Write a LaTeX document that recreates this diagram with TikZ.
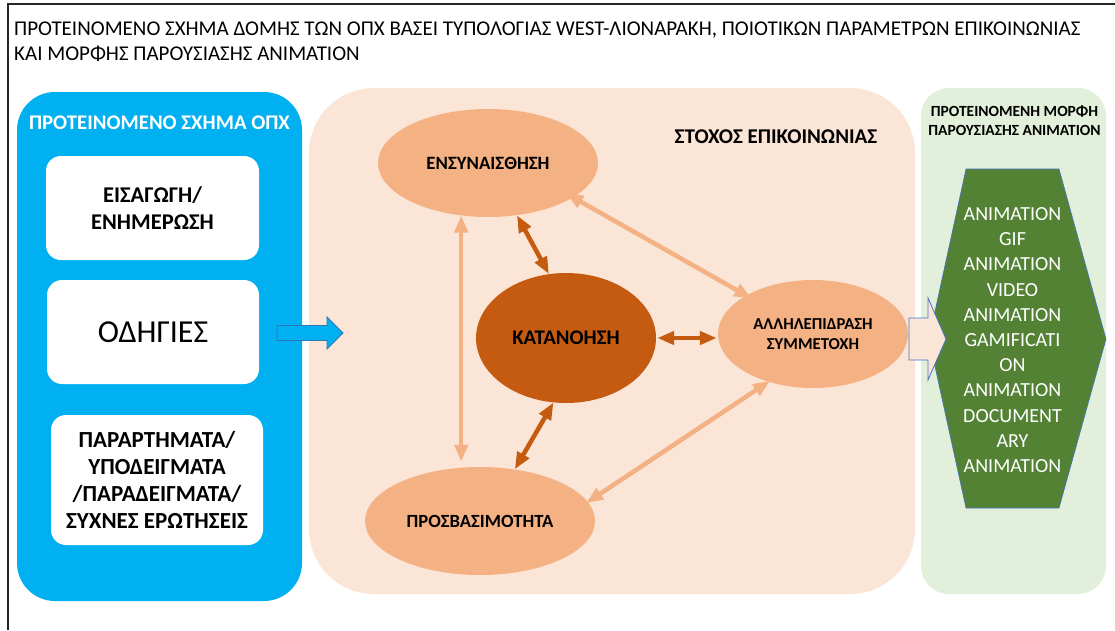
\documentclass[tikz,border=0pt]{standalone}
\usepackage{fontspec}
\setmainfont{Carlito}
\usetikzlibrary{shapes.geometric,arrows.meta}
\definecolor{bluep}{HTML}{00B0F0}
\definecolor{bluedge}{HTML}{2E75B6}
\definecolor{orpanel}{HTML}{FBE5D6}
\definecolor{lightor}{HTML}{F4B183}
\definecolor{darkor}{HTML}{C55A11}
\definecolor{grpanel}{HTML}{E2EFDA}
\definecolor{hexgreen}{HTML}{548235}
\definecolor{hexedge}{HTML}{4472C4}
\begin{document}
\begin{tikzpicture}[x=1pt,y=-1pt,
  panel/.style={inner sep=0pt, draw=none},
  wbox/.style={fill=white, rounded corners=15pt, inner sep=0pt, align=center},
  ell/.style={ellipse, inner sep=0pt, fill=lightor, align=center},
  lt/.style={draw=lightor, line width=4.5pt, {Triangle[length=17pt,width=13pt]}-{Triangle[length=17pt,width=13pt]}},
  dk/.style={draw=darkor, line width=4.5pt, {Triangle[length=17pt,width=13pt]}-{Triangle[length=17pt,width=13pt]}},
  blockarrow/.style={line width=0.8pt, line join=miter}
]
\useasboundingbox (0,0) rectangle (1115,630);
\fill[white] (0,0) rectangle (1115,630);
% frame
\draw[line width=1.5pt, black!85] (8,630) -- (8,4) -- (1115,4);
% title
\node[anchor=west, align=left, inner sep=0pt, font=\fontsize{21}{25}\selectfont] (title) at (14,42)
  {ΠΡΟΤΕΙΝΟΜΕΝΟ ΣΧΗΜΑ ΔΟΜΗΣ ΤΩΝ ΟΠΧ ΒΑΣΕΙ ΤΥΠΟΛΟΓΙΑΣ WEST-ΛΙΟΝΑΡΑΚΗ, ΠΟΙΟΤΙΚΩΝ ΠΑΡΑΜΕΤΡΩΝ ΕΠΙΚΟΙΝΩΝΙΑΣ\\ΚΑΙ ΜΟΡΦΗΣ ΠΑΡΟΥΣΙΑΣΗΣ ANIMATION};
% panels
\node[panel, fill=bluep, rounded corners=38pt, minimum width=285pt, minimum height=509pt] (blue) at (159.5,346.5) {};
\node[panel, fill=orpanel, rounded corners=65pt, minimum width=606pt, minimum height=506pt] (orange) at (612,341) {};
\node[panel, fill=grpanel, rounded corners=28pt, minimum width=185pt, minimum height=506pt] (green) at (1013.5,341) {};
% left panel content
\node[text=white, font=\fontsize{20.8}{24}\selectfont\bfseries] (bluetitle) at (159.5,123) {ΠΡΟΤΕΙΝΟΜΕΝΟ ΣΧΗΜΑ ΟΠΧ};
\node[wbox, minimum width=213pt, minimum height=104pt, font=\fontsize{22.5}{27}\selectfont\bfseries] (box1) at (152.5,208) {ΕΙΣΑΓΩΓΗ/\\ΕΝΗΜΕΡΩΣΗ};
\node[wbox, minimum width=212pt, minimum height=104pt, font=\fontsize{32}{36}\selectfont] (box2) at (153,332) {ΟΔΗΓΙΕΣ};
\node[wbox, minimum width=212pt, minimum height=130pt, font=\fontsize{23}{27}\selectfont\bfseries] (box3) at (157,480) {ΠΑΡΑΡΤΗΜΑΤΑ/\\ΥΠΟΔΕΙΓΜΑΤΑ\\/ΠΑΡΑΔΕΙΓΜΑΤΑ/\\ΣΥΧΝΕΣ ΕΡΩΤΗΣΕΙΣ};
% blue block arrow
\draw[blockarrow, fill=bluep, draw=bluedge] (277,325.5) -- (327,325.5) -- (327,317) -- (343,333) -- (327,349) -- (327,340.5) -- (277,340.5) -- cycle;
% centre panel
\node[font=\fontsize{21}{24}\selectfont\bfseries] (goal) at (776,137) {ΣΤΟΧΟΣ ΕΠΙΚΟΙΝΩΝΙΑΣ};
\node[ell, minimum width=220pt, minimum height=108pt, font=\fontsize{18.8}{22}\selectfont\bfseries] (ens) at (488,163) {ΕΝΣΥΝΑΙΣΘΗΣΗ};
\node[ell, fill=darkor, minimum width=180pt, minimum height=130pt, font=\fontsize{20.8}{24}\selectfont\bfseries] (kat) at (566,338) {ΚΑΤΑΝΟΗΣΗ};
\node[ell, minimum width=190pt, minimum height=108pt, font=\fontsize{16.7}{20}\selectfont\bfseries] (all) at (813,334) {ΑΛΛΗΛΕΠΙΔΡΑΣΗ\\ΣΥΜΜΕΤΟΧΗ};
\node[ell, minimum width=230pt, minimum height=108pt, font=\fontsize{18.6}{22}\selectfont\bfseries] (pros) at (480,521) {ΠΡΟΣΒΑΣΙΜΟΤΗΤΑ};
% connectors
\draw[lt, shorten >=5pt] (ens.-117) -- (ens.-117 |- pros.north);
\draw[dk] (ens.-61) -- (kat.105);
\draw[lt, shorten <=-8pt, shorten >=-6pt] (ens.-22) -- (all.150);
\draw[dk, shorten <=1pt, shorten >=1pt] (kat.east) -- (kat.east -| all.west);
\draw[dk] (kat.-101) -- (pros.56);
\draw[lt, shorten <=-2pt, shorten >=-2pt] (all.-133) -- (pros.10);
% right panel
\node[align=center, font=\fontsize{15.5}{19}\selectfont\bfseries] (greentitle) at (1014.5,120.5) {ΠΡΟΤΕΙΝΟΜΕΝΗ ΜΟΡΦΗ\\ΠΑΡΟΥΣΙΑΣΗΣ ANIMATION};
\draw[fill=hexgreen, draw=hexedge, line width=0.6pt] (966,169) -- (1059,169) -- (1106,339) -- (1059,508) -- (966,508) -- (929,339) -- cycle;
\node[align=center, text=white, font=\fontsize{20}{25.2}\selectfont] (hex) at (1012.5,340) {ANIMATION\\GIF\\ANIMATION\\VIDEO\\ANIMATION\\GAMIFICATI\\ON\\ANIMATION\\DOCUMENT\\ARY\\ANIMATION};
% pink block arrow
\draw[blockarrow, fill=orpanel, draw=hexedge] (909,318) -- (928,318) -- (928,298) -- (946,339) -- (928,380) -- (928,360) -- (909,360) -- cycle;
\end{tikzpicture}
\end{document}
